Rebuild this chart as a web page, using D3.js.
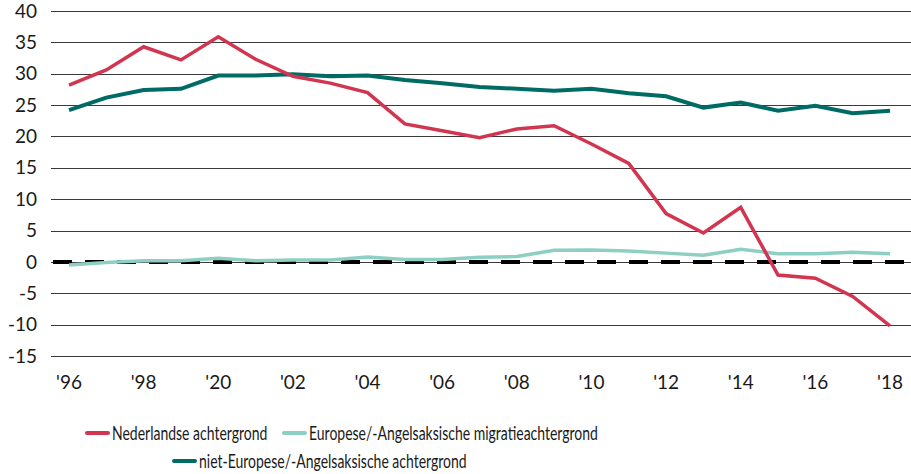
<!DOCTYPE html>
<html>
<head>
<meta charset="utf-8">
<script src="https://cdn.jsdelivr.net/npm/d3@7"></script>
<style>
  body { margin: 0; background: #fff; }
  svg { display: block; font-family: Lato, "Open Sans", sans-serif; }
</style>
</head>
<body>
<svg id="chart" width="911" height="474"></svg>
<script>
"use strict";

var years = [1996, 1997, 1998, 1999, 2000, 2001, 2002, 2003, 2004, 2005, 2006, 2007,
             2008, 2009, 2010, 2011, 2012, 2013, 2014, 2015, 2016, 2017, 2018];

// x tick labels as printed in the source (including its '20 for 2000)
var xTickYears = [1996, 1998, 2000, 2002, 2004, 2006, 2008, 2010, 2012, 2014, 2016, 2018];
var xTickLabels = ["'96", "'98", "'20", "'02", "'04", "'06", "'08", "'10", "'12", "'14", "'16", "'18"];
var yTicks = [40, 35, 30, 25, 20, 15, 10, 5, 0, -5, -10, -15];

var nederlands = [28.2, 30.6, 34.3, 32.2, 35.9, 32.3, 29.6, 28.5, 27.0, 22.0, 20.9, 19.8,
                  21.2, 21.7, 18.8, 15.7, 7.7, 4.6, 8.7, -2.1, -2.6, -5.5, -10.2];
var europees = [-0.5, -0.1, 0.2, 0.2, 0.6, 0.2, 0.3, 0.3, 0.8, 0.4, 0.4, 0.75,
                0.85, 1.85, 1.9, 1.75, 1.4, 1.05, 2.0, 1.3, 1.3, 1.55, 1.3];
var nietEuropees = [24.2, 26.2, 27.4, 27.6, 29.7, 29.7, 29.9, 29.6, 29.7, 29.0, 28.5, 27.9,
                    27.6, 27.3, 27.6, 26.9, 26.4, 24.6, 25.4, 24.1, 24.9, 23.7, 24.1];

var seriesNames = ["Nederlandse achtergrond",
                   "Europese/-Angelsaksische migratieachtergrond",
                   "niet-Europese/-Angelsaksische achtergrond"];
var seriesColors = ["#d23550", "#8ecfc3", "#006b65"];

var svg = d3.select("#chart"),
    plotLeft = 51, plotRight = 911,
    plotTop = 11, plotBottom = 356;

var x = d3.scaleLinear().domain([1996, 2018]).range([69, 890]);
var y = d3.scaleLinear().domain([-15, 40]).range([plotBottom, plotTop]);

// horizontal grid lines
svg.append("g")
    .selectAll("line")
    .data(yTicks)
  .enter().append("line")
    .attr("x1", plotLeft)
    .attr("x2", plotRight)
    .attr("y1", function(d) { return Math.round(y(d)) + 0.5; })
    .attr("y2", function(d) { return Math.round(y(d)) + 0.5; })
    .attr("stroke", "#3a3a3a")
    .attr("stroke-width", 1);

// y labels
svg.append("g")
    .selectAll("text")
    .data(yTicks)
  .enter().append("text")
    .attr("x", 37)
    .attr("y", function(d) { return y(d); })
    .attr("dy", "0.35em")
    .attr("text-anchor", "end")
    .attr("font-size", 19)
    .attr("fill", "#1a1a1a")
    .text(function(d) { return d; });

// x labels
svg.append("g")
    .selectAll("text")
    .data(xTickYears)
  .enter().append("text")
    .attr("x", function(d) { return x(d); })
    .attr("y", 389)
    .attr("text-anchor", "middle")
    .attr("font-size", 19)
    .attr("fill", "#1a1a1a")
    .text(function(d, i) { return xTickLabels[i]; });

// zero reference line, dashed
svg.append("line")
    .attr("x1", plotLeft + 2)
    .attr("x2", plotRight)
    .attr("y1", y(0))
    .attr("y2", y(0))
    .attr("stroke", "#000")
    .attr("stroke-width", 4)
    .attr("stroke-dasharray", "19,13");

var line = d3.line()
    .x(function(d, i) { return x(years[i]); })
    .y(function(d) { return y(d); });

var allSeries = [nederlands, europees, nietEuropees];
var drawOrder = [1, 2, 0];

drawOrder.forEach(function(k) {
  svg.append("path")
      .datum(allSeries[k])
      .attr("fill", "none")
      .attr("stroke", seriesColors[k])
      .attr("stroke-width", k === 2 ? 4 : 3.5)
      .attr("stroke-linejoin", "miter")
      .attr("d", line);
});

// legend (source font is a condensed face, so squeeze the text horizontally)
var legendItems = [
  {i: 0, x: 87, y: 433},
  {i: 1, x: 284, y: 433},
  {i: 2, x: 174, y: 461}
];

var legend = svg.append("g")
    .selectAll("g")
    .data(legendItems)
  .enter().append("g")
    .attr("transform", function(d) { return "translate(" + d.x + "," + d.y + ")"; });

legend.append("line")
    .attr("x1", 0)
    .attr("x2", 21)
    .attr("stroke", function(d) { return seriesColors[d.i]; })
    .attr("stroke-width", 4)
    .attr("stroke-linecap", "round");

legend.append("text")
    .attr("transform", "translate(25,0) scale(0.70,1)")
    .attr("dy", "0.35em")
    .attr("font-size", 20)
    .attr("fill", "#1a1a1a")
    .text(function(d) { return seriesNames[d.i]; });
</script>
</body>
</html>
